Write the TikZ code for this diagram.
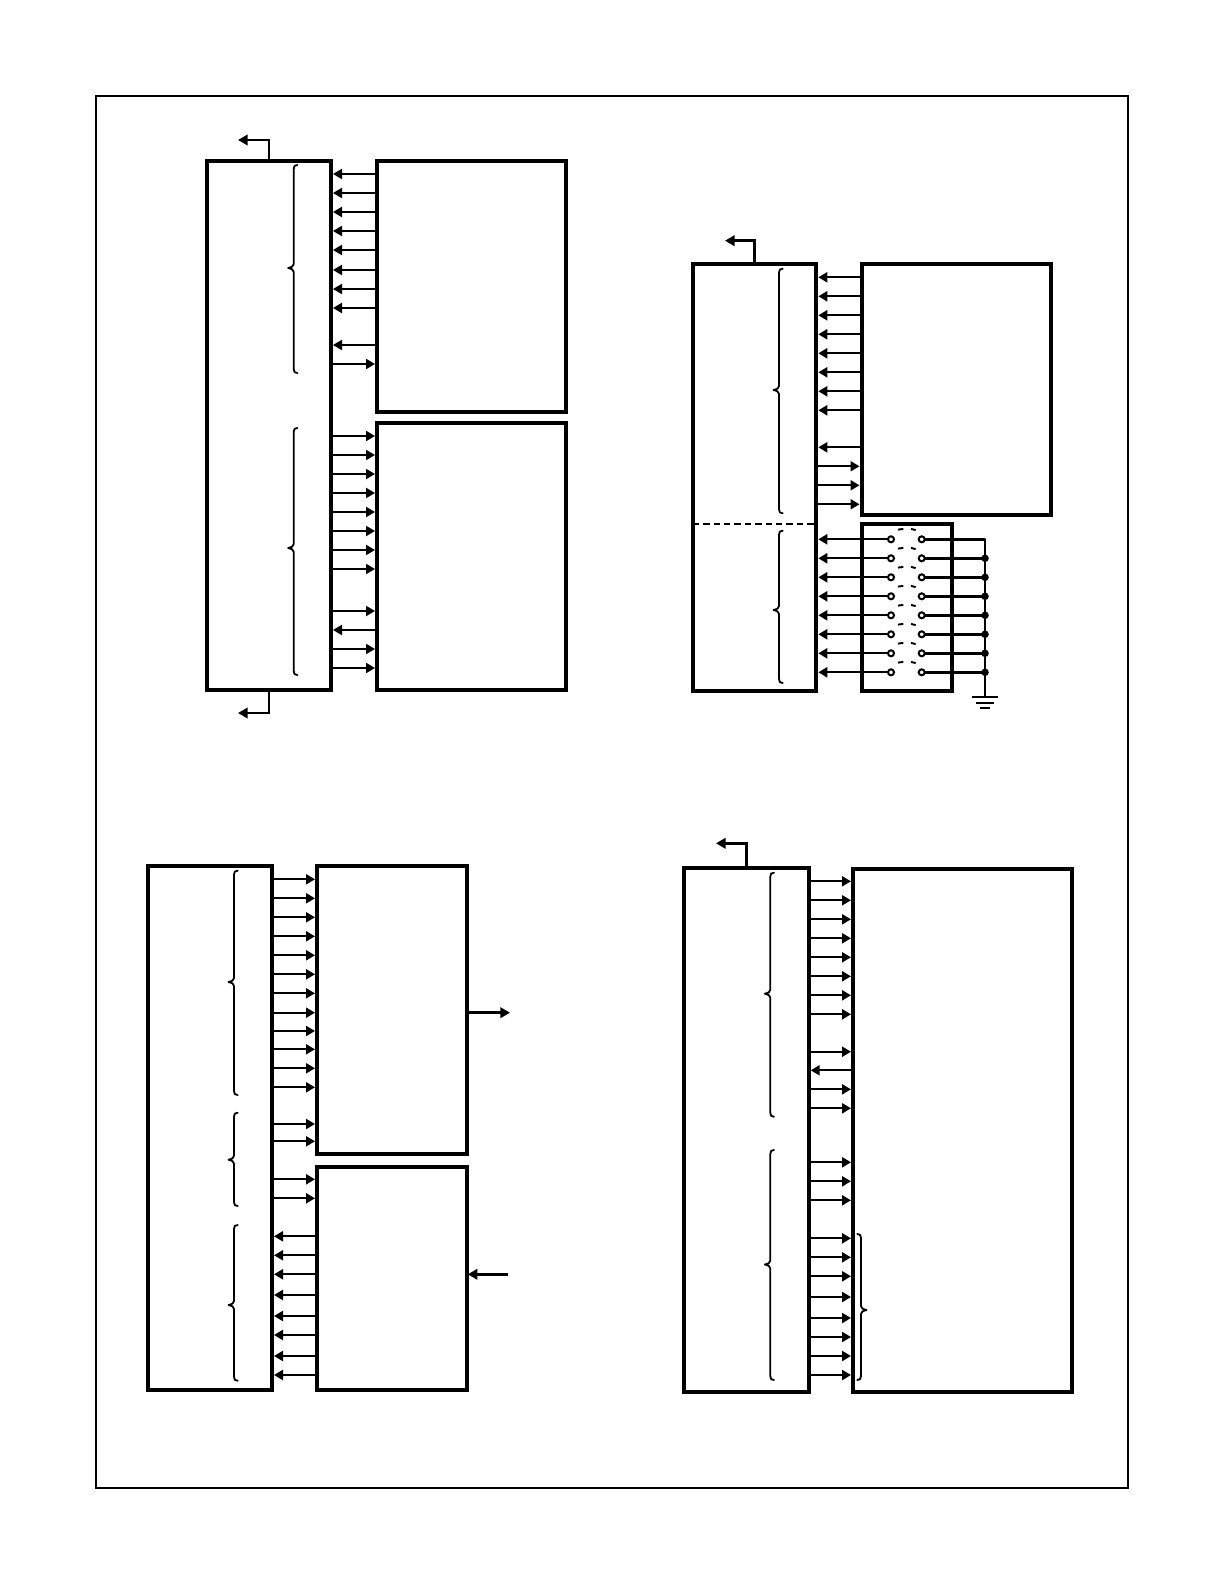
\documentclass[tikz,border=0pt]{standalone}
\usepackage{xcolor}
\usetikzlibrary{positioning,calc,arrows.meta}

\tikzset{
  chipbox/.style={draw, line width=2bp, inner sep=0pt, outer sep=0pt, anchor=north west},
  thinbox/.style={chipbox, line width=1.8bp},
  busline/.style={line width=1.1bp, shorten >=1bp, -{Triangle[length=4.5bp,width=5bp]}},
  stubline/.style={line width=1.3bp, -{Triangle[length=4.8bp,width=5.2bp]}},
  wireline/.style={line width=1.3bp},
  bracemark/.style={line width=0.9bp, line join=round, line cap=round},
  contact/.style={circle, draw, fill=white, line width=1bp, inner sep=0pt, outer sep=0pt, minimum size=3bp},
  raildot/.style={circle, fill=black, inner sep=0pt, outer sep=0pt, minimum size=3.8bp},
}

\begin{document}
\begin{tikzpicture}[x=0.5bp, y=-0.5bp]
  \useasboundingbox (0,0) rectangle (1224,1584);
  \draw[line width=1bp] (95.7,95.7) rectangle (1128.3,1487.7);

  % Panel 1: controller with two memories
  \node[chipbox, minimum width=62bp, minimum height=264.5bp] (ctrlA) at (207,161) {};
  \node[chipbox, minimum width=94.5bp, minimum height=125.5bp] (ramA) at (377,161) {};
  \node[chipbox, minimum width=94.5bp, minimum height=133.5bp] (ramB) at (377,423.3) {};
  \coordinate (stubAtop) at (238,140);
  \coordinate (stubAbot) at (238,713);
  \draw[stubline] (ctrlA.north) |- (stubAtop);
  \draw[stubline] (ctrlA.south) |- (stubAbot);
  \foreach \y in {174,193,212,231,250,270,289,308,345}
    \draw[busline] (ramA.west |- 0,\y) -- (ctrlA.east |- 0,\y);
  \draw[busline] (ctrlA.east |- 0,364) -- (ramA.west |- 0,364);
  \foreach \y in {436,455,474,493,512,531,550,569,611,649,668}
    \draw[busline] (ctrlA.east |- 0,\y) -- (ramB.west |- 0,\y);
  \draw[busline] (ramB.west |- 0,630) -- (ctrlA.east |- 0,630);

  % Panel 2: controller with memory and switch block
  \node[chipbox, minimum width=61.8bp, minimum height=213.1bp] (ctrlB) at (692.7,264.3) {};
  \node[chipbox, minimum width=94.9bp, minimum height=125.35bp] (ramC) at (861.5,264.3) {};
  \node[chipbox, minimum width=45bp, minimum height=83.25bp] (dipsw) at (861.5,524) {};
  \coordinate (stubB) at (725,240.7);
  \draw[stubline] (ctrlB.north) |- (stubB);
  \foreach \y in {277.3,296.3,315.3,334.3,353.3,372.3,391.3,410.3,447.3}
    \draw[busline] (ramC.west |- 0,\y) -- (ctrlB.east |- 0,\y);
  \foreach \y in {466.3,485.3,504.3}
    \draw[busline] (ctrlB.east |- 0,\y) -- (ramC.west |- 0,\y);
  \draw[line width=1.1bp, dash pattern=on 3.2bp off 2bp] (ctrlB.west |- dipsw.north) -- (ctrlB.east |- dipsw.north);

  % Switch contacts, levers and ground rail
  \foreach \i/\y in {1/539.3,2/558.3,3/577.3,4/596.3,5/615.3,6/634.3,7/653.3,8/672.3} {
    \node[contact] (swL\i) at (891,\y) {};
    \node[contact] (swR\i) at (921.7,\y) {};
    \coordinate (rail\i) at (985,\y);
    \draw[busline] (swL\i) -- (ctrlB.east |- swL\i);
    \draw[wireline] (swR\i) -- (rail\i);
    \draw[line width=0.95bp] (898,{\y-9.7}) -- (903.3,{\y-10.4});
    \draw[line width=0.95bp] (911,{\y-10.4}) -- (915.7,{\y-9.2});
  }
  \foreach \i in {2,...,8}
    \node[raildot] (dot\i) at (rail\i) {};
  \coordinate (gnd) at (985,697);
  \draw[wireline, line cap=round] (rail1) -- (gnd);
  \draw[line width=1bp] (gnd) ++(-13,0) -- ++(26,0);
  \draw[line width=1bp] (gnd) ++(-9,5.7) -- ++(18,0);
  \draw[line width=1bp] (gnd) ++(-5,11.3) -- ++(10,0);

  % Panel 3: controller with two converters
  \node[thinbox, minimum width=62bp, minimum height=262bp] (ctrlC) at (148,866) {};
  \node[thinbox, minimum width=75bp, minimum height=144bp] (convD) at (317,866) {};
  \node[thinbox, minimum width=75bp, minimum height=111.5bp] (convE) at (317,1167) {};
  \foreach \y in {879.3,898.3,917.3,936.3,955.3,974.3,993.3,1012.7,1031,1049.3,1068.3,1087.3,1124,1141.3}
    \draw[busline] (ctrlC.east |- 0,\y) -- (convD.west |- 0,\y);
  \foreach \y in {1179.3,1198.3}
    \draw[busline] (ctrlC.east |- 0,\y) -- (convE.west |- 0,\y);
  \foreach \y in {1236.3,1255.3,1274.3,1295,1316,1335,1356,1375}
    \draw[busline] (convE.west |- 0,\y) -- (ctrlC.east |- 0,\y);
  \coordinate (outD) at (510,1012.7);
  \coordinate (inE) at (508,1274.3);
  \draw[stubline] (convD.east |- outD) -- (outD);
  \draw[stubline, shorten >=0.4bp] (inE) -- (convE.east |- inE);

  % Panel 4: controller with display
  \node[chipbox, minimum width=62.2bp, minimum height=262bp] (ctrlD) at (684.3,867.7) {};
  \node[chipbox, minimum width=109.5bp, minimum height=261.35bp] (dispF) at (853,869) {};
  \coordinate (stubD) at (716,843.3);
  \draw[stubline] (ctrlD.north) |- (stubD);
  \foreach \y in {881.3,900.3,919.3,938.3,957.3,976.3,995.3,1014.3,1051.7,1089.3,1108.3,1162.3,1181.3,1200.3,1238.3,1257.3,1276.3,1297,1318,1337,1356,1375}
    \draw[busline] (ctrlD.east |- 0,\y) -- (dispF.west |- 0,\y);
  \draw[busline] (dispF.west |- 0,1070.3) -- (ctrlD.east |- 0,1070.3);

  % Braces: direction, spine x, top, bottom, tip y
  \foreach \d/\bx/\ya/\yb/\ym in {1/293.7/165/373/268, 1/293.7/428/675/548,
      1/779/268.7/513.3/390, 1/779/530.7/683/610,
      1/234/870.7/1095/982, 1/234/1112.7/1206/1159.7, 1/234/1225/1380.7/1305,
      1/770.3/872.7/1116.7/993.7, 1/770.3/1150/1380/1264.5, -1/861/1234/1380/1310} {
    \draw[bracemark] ({\bx+\d*3.7},\ya) .. controls ({\bx+\d*1},\ya) and (\bx,{\ya+1}) .. (\bx,{\ya+4})
      -- (\bx,{\ym-4}) .. controls (\bx,{\ym-1.5}) and ({\bx-\d*2},{\ym-1}) .. ({\bx-\d*5.5},\ym)
      .. controls ({\bx-\d*2},{\ym+1}) and (\bx,{\ym+1.5}) .. (\bx,{\ym+4})
      -- (\bx,{\yb-4}) .. controls (\bx,{\yb-1}) and ({\bx+\d*1},\yb) .. ({\bx+\d*3.7},\yb);
  }
\end{tikzpicture}
\end{document}
